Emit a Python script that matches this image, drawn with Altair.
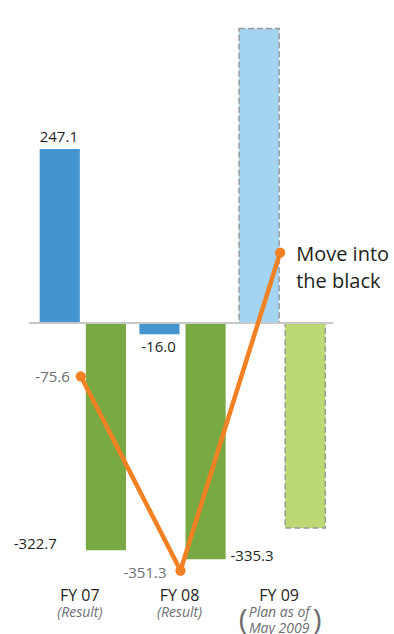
import altair as alt
import pandas as pd

# ---- data ----
categories = ["FY 07", "FY 08", "FY 09"]
subtitles = ["(Result)", "(Result)", ""]
plan_note_1 = ["", "", "Plan as of"]
plan_note_2 = ["", "", "May 2009"]
series_names = ["Series 1", "Series 2"]
blue_values = [247.1, -16.0, 418.0]
green_values = [-322.7, -335.3, -291.0]
line_values = [-75.6, -351.3, 100.0]
is_plan = [False, False, True]
blue_labels = ["247.1", "-16.0", ""]
green_labels = ["-322.7", "-335.3", ""]
line_labels = ["-75.6", "-351.3", "Move into"]
line_labels_2 = ["", "", "the black"]

FONT = "Open Sans"
DARK = "#231f20"
GRAY = "#6d6e71"
ORANGE = "#f28123"

rows = []
for i, c in enumerate(categories):
    for s, vals, labs in ((series_names[0], blue_values, blue_labels),
                          (series_names[1], green_values, green_labels)):
        rows.append({
            "category": c,
            "series": s,
            "value": vals[i],
            "zero": 0.0,
            "label": labs[i],
            "plan": 1 if is_plan[i] else 0,
            "key": s + (" plan" if is_plan[i] else ""),
        })
bars_df = pd.DataFrame(rows)

line_df = pd.DataFrame({"category": categories, "value": line_values,
                        "label": line_labels, "label2": line_labels_2})
cat_df = pd.DataFrame({"category": categories, "sub": subtitles,
                       "note1": plan_note_1, "note2": plan_note_2})

x_enc = alt.X("category:N",
              scale=alt.Scale(domain=categories, paddingInner=0, paddingOuter=0),
              axis=None)
xoff_enc = alt.XOffset("series:N",
                       scale=alt.Scale(domain=series_names, paddingInner=0.13, paddingOuter=0.145))
y_enc = alt.Y("value:Q", scale=alt.Scale(domain=[-440, 440], nice=False, zero=False), axis=None)
color_enc = alt.Color("key:N", legend=None, scale=alt.Scale(
    domain=["Series 1", "Series 2", "Series 1 plan", "Series 2 plan"],
    range=["#4494d0", "#78a942", "#a3d4f2", "#bcd873"]))

base = alt.Chart(bars_df)

bars_result = base.mark_bar().encode(
    x=x_enc, xOffset=xoff_enc, y=y_enc, y2=alt.Y2("zero"), color=color_enc
).transform_filter("datum.plan == 0")

bars_plan = base.mark_bar(stroke="#9a9a9a", strokeDash=[6, 3], strokeWidth=1.5).encode(
    x=x_enc, xOffset=xoff_enc, y=y_enc, y2=alt.Y2("zero"), color=color_enc
).transform_filter("datum.plan == 1")

zero_rule = base.mark_rule(color="#c8c8c8", strokeWidth=2).encode(
    y=alt.Y("zero:Q", axis=None), x=alt.value(-4), x2=alt.value(300)
).transform_filter("datum.series == 'Series 1' && datum.category == 'FY 07'")

line = alt.Chart(line_df).mark_line(color=ORANGE, strokeWidth=4.5, xOffset=-2).encode(
    x=x_enc, y=y_enc
)
points = alt.Chart(line_df).mark_circle(color=ORANGE, size=105, opacity=1, xOffset=-2).encode(
    x=x_enc, y=y_enc
)


def bar_label(cat, series, align, dx, dy, baseline="alphabetic"):
    return base.mark_text(font=FONT, fontSize=15, color=DARK, align=align, dx=dx, dy=dy,
                          baseline=baseline).encode(
        x=x_enc, y=y_enc, text="label:N"
    ).transform_filter(
        f"datum.category == '{cat}' && datum.series == '{series}'"
    )


lab1 = bar_label("FY 07", "Series 1", "center", -24, -7)
lab2 = bar_label("FY 08", "Series 1", "center", -24, 18)
lab3 = bar_label("FY 07", "Series 2", "right", -26, -1)
lab4 = bar_label("FY 08", "Series 2", "left", 48, 2)


def line_label(cat, field, align, dx, dy, size, color, baseline):
    return alt.Chart(line_df).mark_text(font=FONT, fontSize=size, color=color, align=align,
                                        dx=dx, dy=dy, baseline=baseline).encode(
        x=x_enc, y=y_enc, text=f"{field}:N"
    ).transform_filter(f"datum.category == '{cat}'")


ll1 = line_label("FY 07", "label", "right", -13, 1, 15, GRAY, "middle")
ll2 = line_label("FY 08", "label", "right", -16, 2, 15, GRAY, "middle")
ll3 = line_label("FY 09", "label", "left", 14, 8, 20, DARK, "alphabetic")
ll4 = line_label("FY 09", "label2", "left", 14, 35, 20, DARK, "alphabetic")


def cat_layer(field, size, color, y, style="normal"):
    return alt.Chart(cat_df).mark_text(font=FONT, fontSize=size, color=color, dx=-3,
                                       fontStyle=style, baseline="alphabetic").encode(
        x=x_enc, y=alt.value(y), text=f"{field}:N"
    ).transform_filter(f"datum.{field} != ''")


cat_text = cat_layer("category", 16, DARK, 588)
sub_text = cat_layer("sub", 14, GRAY, 604, "italic")
note1 = cat_layer("note1", 14, GRAY, 604, "italic")
note2 = cat_layer("note2", 14, GRAY, 620, "italic")

paren_l = alt.Chart(cat_df).mark_text(font=FONT, fontSize=30, color=GRAY,
                                      dx=-39, baseline="alphabetic", text="(").encode(
    x=x_enc, y=alt.value(617)
).transform_filter("datum.category == 'FY 09'")
paren_r = alt.Chart(cat_df).mark_text(font=FONT, fontSize=30, color=GRAY,
                                      dx=35, baseline="alphabetic", text=")").encode(
    x=x_enc, y=alt.value(617)
).transform_filter("datum.category == 'FY 09'")

chart = alt.layer(
    bars_result, bars_plan, zero_rule, line, points,
    lab1, lab2, lab3, lab4, ll1, ll2, ll3, ll4,
    cat_text, sub_text, note1, note2, paren_l, paren_r
).properties(
    width=299, height=620,
    autosize=alt.AutoSizeParams(type="none"),
    padding={"left": 33, "top": 13, "right": 62, "bottom": 1},
).configure_view(stroke=None)

chart.save("out.html", embed_options={"renderer": "svg", "actions": False})
